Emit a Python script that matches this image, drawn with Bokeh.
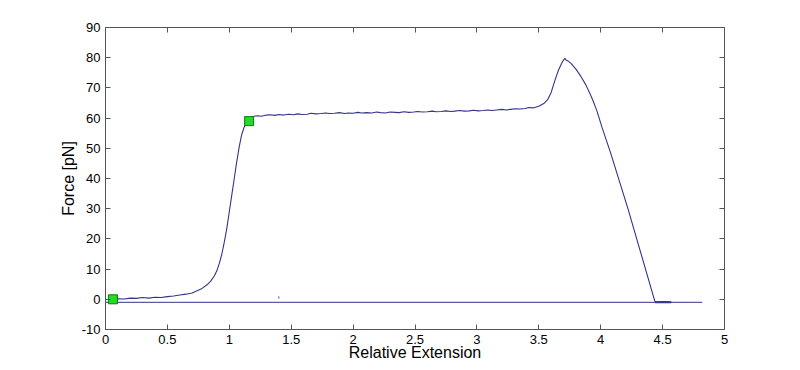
from bokeh.plotting import figure
from bokeh.models import LinearAxis, FixedTicker, Range1d
from bokeh.embed import file_html
from bokeh.resources import INLINE

# ---- data ----
ext_x = [0.06, 0.10, 0.15, 0.20, 0.25, 0.30, 0.35, 0.40, 0.45, 0.50, 0.55, 0.60, 0.65, 0.70,
         0.74, 0.78, 0.82, 0.85, 0.88, 0.90, 0.92, 0.94, 0.96, 0.98, 1.00, 1.02, 1.04, 1.06,
         1.08, 1.10, 1.12, 1.14, 1.16, 1.18, 1.20, 1.23, 1.26, 1.30, 1.33, 1.37, 1.40, 1.44,
         1.48, 1.52, 1.55, 1.59, 1.63, 1.66, 1.70, 1.74, 1.78, 1.81, 1.85, 1.89, 1.93, 1.96,
         2.00, 2.04, 2.07, 2.11, 2.15, 2.19, 2.22, 2.26, 2.30, 2.34, 2.37, 2.41, 2.45, 2.49,
         2.52, 2.56, 2.60, 2.64, 2.67, 2.71, 2.75, 2.79, 2.82, 2.86, 2.90, 2.94, 2.97, 3.01,
         3.05, 3.09, 3.12, 3.16, 3.20, 3.24, 3.27, 3.31, 3.35, 3.39, 3.42, 3.46, 3.50, 3.54,
         3.57, 3.60, 3.63, 3.66, 3.69, 3.71, 3.72, 3.74, 3.76, 3.80, 3.84, 3.88, 3.91, 3.94,
         3.97, 4.01, 4.08, 4.22, 4.44, 4.50, 4.57]
ext_y = [0.0, 0.2, 0.1, 0.4, 0.3, 0.6, 0.4, 0.7, 0.6, 0.9, 1.1, 1.4, 1.7, 2.1,
         2.8, 3.6, 4.8, 6.0, 7.8, 9.5, 12.0, 15.0, 19.0, 23.5, 29.0, 34.5, 40.0, 45.5,
         50.5, 54.5, 57.0, 58.5, 59.3, 60.2, 60.6, 60.8, 60.6, 61.0, 61.1, 60.9, 61.2, 61.0,
         61.3, 61.1, 61.4, 61.2, 61.3, 61.6, 61.4, 61.5, 61.7, 61.5, 61.6, 61.8, 61.5, 61.7,
         61.6, 61.9, 61.7, 61.8, 61.7, 62.0, 61.8, 61.7, 62.0, 61.9, 61.8, 62.1, 61.9, 62.0,
         62.2, 62.0, 62.1, 62.3, 62.1, 62.2, 62.4, 62.2, 62.3, 62.5, 62.3, 62.4, 62.6, 62.4,
         62.5, 62.7, 62.5, 62.7, 62.9, 62.7, 62.9, 63.1, 63.0, 63.2, 63.5, 63.4, 63.9, 64.8,
         66.0, 68.5, 72.5, 76.0, 78.6, 79.8, 79.2, 78.8, 78.1, 76.2, 73.8, 71.0, 68.4, 65.6,
         62.3, 57.0, 48.5, 30.0, -1.0, -0.9, -1.0]

base_x = [0.0, 4.82]
base_y = [-1.0, -1.0]

spike_x = [1.40, 1.40]
spike_y = [0.2, 1.0]

marker_x = [0.06, 1.16]
marker_y = [0.0, 59.0]

x_ticks = [0, 0.5, 1, 1.5, 2, 2.5, 3, 3.5, 4, 4.5, 5]
x_tick_labels = ["0", "0.5", "1", "1.5", "2", "2.5", "3", "3.5", "4", "4.5", "5"]
y_ticks = [-10, 0, 10, 20, 30, 40, 50, 60, 70, 80, 90]
y_tick_labels = ["-10", "0", "10", "20", "30", "40", "50", "60", "70", "80", "90"]

# ---- figure ----
FONT = "Liberation Sans"
AX = "#555555"

p = figure(width=792, height=366, output_backend="svg", toolbar_location=None,
           x_range=Range1d(0, 5), y_range=Range1d(-10, 90),
           x_axis_location=None, y_axis_location=None,
           min_border_left=105, min_border_right=68, min_border_top=27, min_border_bottom=37)
p.grid.visible = False
p.outline_line_color = AX
p.outline_line_width = 1
p.background_fill_color = "white"
p.border_fill_color = "white"


def style_axis(ax, ticks, labels, show_labels):
    ax.ticker = FixedTicker(ticks=ticks)
    ax.major_label_overrides = {t: l for t, l in zip(ticks, labels)}
    ax.major_tick_in = 5
    ax.major_tick_out = 0
    ax.minor_tick_in = 0
    ax.minor_tick_out = 0
    ax.axis_line_color = AX
    ax.major_tick_line_color = AX
    ax.major_label_text_font = FONT
    ax.major_label_text_font_size = "13px"
    ax.major_label_text_color = "black" if show_labels else None
    ax.major_label_standoff = 5
    ax.axis_label_text_font = FONT
    ax.axis_label_text_font_size = "16px"
    ax.axis_label_text_font_style = "normal"
    ax.axis_label_text_color = "black"


xb = LinearAxis(axis_label="Relative Extension")
style_axis(xb, x_ticks, x_tick_labels, True)
xb.major_label_standoff = 5
xb.axis_label_standoff = -3
p.add_layout(xb, "below")
yl = LinearAxis(axis_label="Force [pN]")
style_axis(yl, y_ticks, y_tick_labels, True)
yl.axis_label_standoff = 2
p.add_layout(yl, "left")
xt = LinearAxis()
style_axis(xt, x_ticks, x_tick_labels, False)
p.add_layout(xt, "above")
yr = LinearAxis()
style_axis(yr, y_ticks, y_tick_labels, False)
p.add_layout(yr, "right")

LINE = "#343488"
p.line(base_x, base_y, line_color="#5c5ca6", line_width=1.2)
p.line(spike_x, spike_y, line_color="#5c5ca6", line_width=1)
p.line(ext_x, ext_y, line_color=LINE, line_width=1.1)
p.line(ext_x[-3:], ext_y[-3:], line_color=LINE, line_width=2)
p.scatter(marker_x, marker_y, marker="square", size=9, fill_color="#22dd22",
          line_color="#117711", line_width=1)

open("out.html", "w").write(file_html(p, INLINE))
